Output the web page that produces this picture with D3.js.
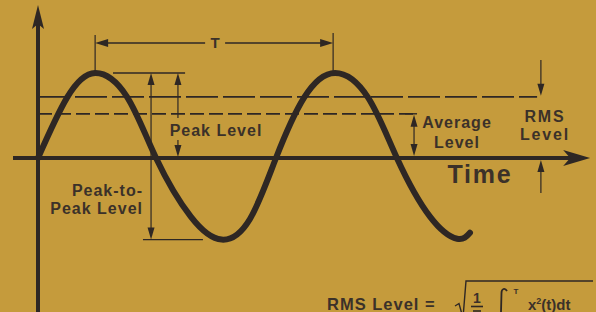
<!DOCTYPE html>
<head>
<meta charset="utf-8">
<script src="https://d3js.org/d3.v7.min.js"></script>
<style>
body {
    margin: 0;
    background-color: #c59b3c;
}
text {
    font-family: "Liberation Sans", Arial, Helvetica, sans-serif;
    font-weight: bold;
    fill: #3b3129;
}
</style>
</head>
<div id="my_dataviz"></div>

<script>

// wave: time in periods (T), value in peak units
var waveTime  = [0, 0.122, 0.240, 0.374, 0.496, 0.642, 0.772, 0.890, 1.000,
                 1.118, 1.248, 1.387, 1.508, 1.647, 1.761, 1.815];
var waveValue = [0, 0.71, 1.00, 0.72, 0, -0.69, -0.96, -0.72, 0,
                 0.71, 1.00, 0.71, 0, -0.69, -0.95, -0.88];

// levels marked on the drawing
var levelNames  = ["Peak", "RMS", "Average", "Trough"];
var levelValues = [1.0, 0.72, 0.52, -0.96];

// the two peaks the period T is measured between
var periodPeaks = [0.24, 1.24];

var labelPeak    = ["Peak Level"];
var labelPtoP    = ["Peak-to-", "Peak Level"];
var labelAverage = ["Average", "Level"];
var labelRms     = ["RMS", "Level"];
var labelAxis    = "Time";

var width = 596, height = 312;

var svg = d3.select("#my_dataviz")
  .append("svg")
    .attr("width", width)
    .attr("height", height);

var x = d3.scaleLinear().domain([0, 1]).range([38, 276]);
var y = d3.scaleLinear().domain([0, 1]).range([158, 73]);

var ink = "#2e2724";
var lvl = {};
levelNames.forEach(function(n, i) { lvl[n] = levelValues[i]; });

// small filled arrow head, tip at (px,py)
function head(px, py, dir, len, hw) {
  len = len || 12; hw = hw || 3.5;
  var p;
  if (dir == "up")    p = [[px,py],[px-hw,py+len],[px+hw,py+len]];
  if (dir == "down")  p = [[px,py],[px-hw,py-len],[px+hw,py-len]];
  if (dir == "left")  p = [[px,py],[px+len,py-hw],[px+len,py+hw]];
  if (dir == "right") p = [[px,py],[px-len,py-hw],[px-len,py+hw]];
  svg.append("path")
    .attr("d", "M" + p.join("L") + "Z")
    .style("fill", ink);
}
function line(x1, y1, x2, y2, w, dash) {
  var l = svg.append("line")
    .attr("x1", x1).attr("y1", y1)
    .attr("x2", x2).attr("y2", y2)
    .style("stroke", ink)
    .style("stroke-width", w || 1.4);
  if (dash) l.style("stroke-dasharray", dash);
  return l;
}
function label(lines, cx, y0, dy, anchor, size, spacing) {
  lines.forEach(function(s, i) {
    svg.append("text")
      .attr("x", cx)
      .attr("y", y0 + i * dy)
      .attr("text-anchor", anchor)
      .style("font-size", size + "px")
      .style("letter-spacing", spacing + "px")
      .text(s);
  });
}

// axes
line(x(-0.105), y(0), x(2.25), y(0), 4);
svg.append("path")
  .attr("d", "M" + x(2.32) + "," + y(0) + "L" + (x(2.32) - 27) + "," + (y(0) - 8) +
             "L" + (x(2.32) - 20) + "," + y(0) + "L" + (x(2.32) - 27) + "," + (y(0) + 8) + "Z")
  .style("fill", ink);
line(x(0), y(-1.82), x(0), y(1.6), 4);
svg.append("path")
  .attr("d", "M" + x(0) + "," + y(1.8) + "L" + (x(0) - 6) + "," + (y(1.8) + 24) +
             "L" + x(0) + "," + (y(1.8) + 19) + "L" + (x(0) + 6) + "," + (y(1.8) + 24) + "Z")
  .style("fill", ink);

// level lines
line(x(0), y(lvl.RMS), x(2.097), y(lvl.RMS), 1.8, "32,5");
line(x(0), y(lvl.Average), x(1.592), y(lvl.Average), 1.8, "14,5");
line(x(0.315), y(lvl.Peak), x(0.618), y(lvl.Peak), 1.4);
line(x(0.441), y(lvl.Trough), x(0.693), y(lvl.Trough), 1.4);

// the wave
var pts = waveTime.map(function(t, i) { return [t, waveValue[i]]; });
svg.append("path")
  .datum(pts)
  .attr("d", d3.line()
    .x(function(d) { return x(d[0]); })
    .y(function(d) { return y(d[1]); })
    .curve(d3.curveNatural))
  .style("fill", "none")
  .style("stroke", ink)
  .style("stroke-width", 6)
  .style("stroke-linecap", "round");

// period T
var ty = 43;
var p0 = x(periodPeaks[0]), p1 = x(periodPeaks[1]);
line(p0, 35, p0, y(lvl.Peak) - 2, 1.2);
line(p1, 33, p1, y(lvl.Peak) - 2, 1.2);
line(p0 + 8, ty, (p0 + p1) / 2 - 9, ty, 1.4);
line((p0 + p1) / 2 + 11, ty, p1 - 8, ty, 1.4);
head(p0, ty, "left", 13, 4);
head(p1, ty, "right", 13, 4);
label(["T"], (p0 + p1) / 2 + 1, 48, 0, "middle", 15, 0);

// peak-to-peak
var xp = x(0.475);
line(xp, y(lvl.Peak) + 6, xp, y(lvl.Trough) - 6, 1.2);
head(xp, y(lvl.Peak), "up");
head(xp, y(lvl.Trough), "down");
label(labelPtoP, 143, 196, 18, "end", 16, 1);

// peak level
var xk = x(0.588);
line(xk, y(lvl.Peak) + 6, xk, 118, 1.2);
line(xk, 140, xk, y(0) - 6, 1.2);
head(xk, y(lvl.Peak), "up");
head(xk, y(0) - 1, "down");
label(labelPeak, 216, 136, 0, "middle", 16, 1);

// average level
var xa = x(1.580);
line(xa - 9, y(lvl.Average), xa + 3, y(lvl.Average), 1.4);
line(xa, y(lvl.Average) + 6, xa, y(0) - 6, 1.2);
head(xa, y(lvl.Average) + 1, "up");
head(xa, y(0) - 2, "down");
label(labelAverage, 457, 128, 20, "middle", 16, 1);

// rms level
var xr = x(2.113);
line(xr, 60, xr, y(lvl.RMS) - 6, 1.2);
head(xr, y(lvl.RMS) - 1, "down");
line(xr, y(0) + 6, xr, 193, 1.2);
head(xr, y(0) + 2, "up");
label(labelRms, 545, 122, 18, "middle", 16, 1.8);

// axis title
label([labelAxis], 480, 183, 0, "middle", 25, 1.8);

// formula at the bottom (runs off the lower edge, as in the original)
label(["RMS Level ="], 327, 310, 0, "start", 16.5, 1);
svg.append("path")
  .attr("d", "M455,306L459,303.5L463,318L466,281L593,281")
  .style("fill", "none")
  .style("stroke", ink)
  .style("stroke-width", 1.4);
label(["1"], 477, 303, 0, "middle", 14, 0);
line(471, 306.5, 483, 306.5, 1.6);
line(473, 311, 481, 311, 1.6);   // top of the denominator T
svg.append("path")
  .attr("d", "M507,291C505,287.5 501.5,288.5 501.5,293L501,312")
  .style("fill", "none")
  .style("stroke", ink)
  .style("stroke-width", 1.8);
label(["T"], 516, 294, 0, "middle", 8, 0);
var fx = svg.append("text")
  .attr("x", 528).attr("y", 310)
  .style("font-size", "15px");
fx.append("tspan").text("x");
fx.append("tspan").attr("dy", -6).style("font-size", "9px").text("2");
fx.append("tspan").attr("dy", 6).text("(t)dt");

</script>
<body>
</body>
